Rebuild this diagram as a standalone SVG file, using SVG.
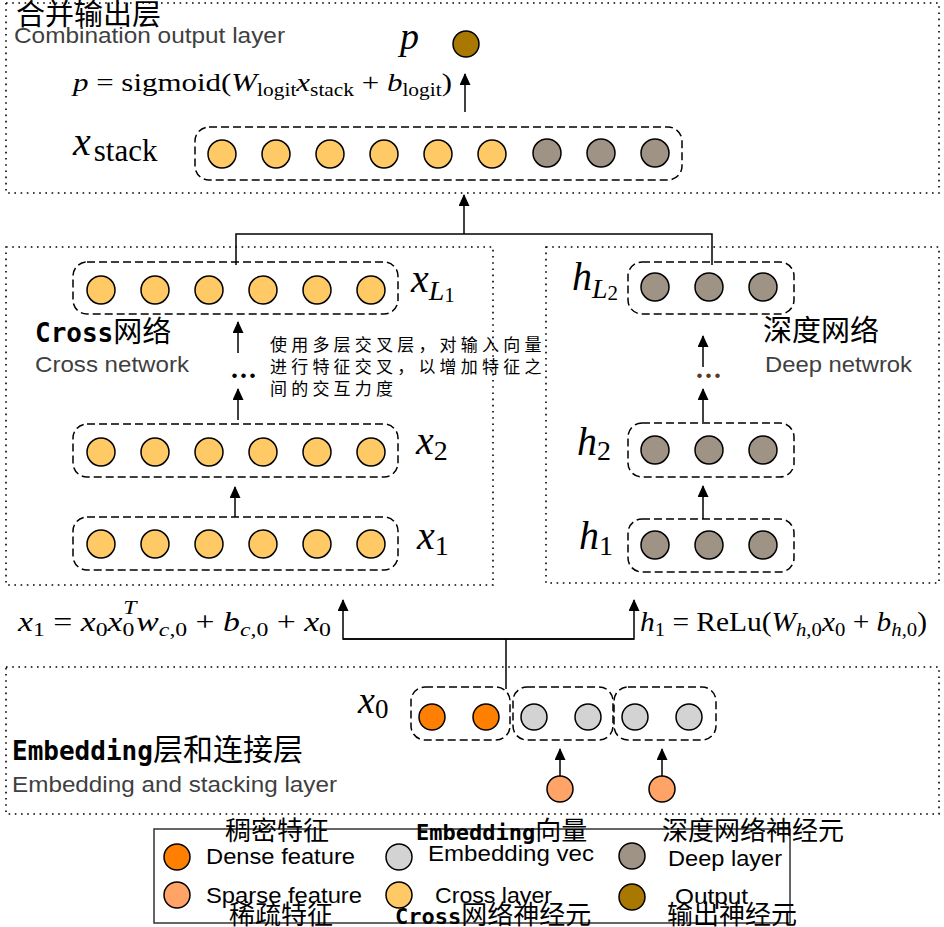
<svg xmlns="http://www.w3.org/2000/svg" width="944" height="927" viewBox="0 0 944 927">
<defs>
<marker id="ah" markerWidth="12" markerHeight="14" refX="11" refY="5.5" orient="auto" markerUnits="userSpaceOnUse">
<path d="M0,0 L12,5.5 L0,11 z" fill="#000"/>
</marker>
<style>
.dot{fill:none;stroke:#000;stroke-width:1.6;stroke-dasharray:1.6 4.6}
.dash{fill:none;stroke:#000;stroke-width:1.5;stroke-dasharray:8 4}
.c{stroke:#000;stroke-width:1.5}
.cross{fill:#FFC966}
.deep{fill:#9E9384}
.dense{fill:#FF7F00}
.sparse{fill:#FFA366}
.emb{fill:#D3D3D3}
.out{fill:#A87800}
.ln{fill:none;stroke:#000;stroke-width:1.5}
.ar{fill:none;stroke:#000;stroke-width:1.5;marker-end:url(#ah)}
.zh{font-family:"Noto Sans CJK SC","Noto Sans CJK JP",sans-serif}
.en{font-family:"Liberation Sans",Arial,sans-serif}
.g{fill:#3f3f3f}
.mono{font-family:"DejaVu Sans Mono",monospace;font-weight:bold}
.m{font-family:"Liberation Serif","DejaVu Serif",serif}
.i{font-style:italic}
</style>
</defs>
<rect width="944" height="927" fill="#fff"/>

<!-- Combination output layer -->
<g id="combination-layer">
<rect class="dot" x="6" y="3" width="933" height="190"/>
<text class="zh" x="16" y="25" font-size="29">合并输出层</text>
<text class="en g" x="14" y="43" font-size="22" textLength="271" lengthAdjust="spacingAndGlyphs">Combination output layer</text>
<text class="m i" x="400" y="49" font-size="38">p</text>
<circle class="c out" cx="466" cy="44" r="13"/>
<text class="m" x="73" y="91" font-size="26" textLength="379" lengthAdjust="spacingAndGlyphs"><tspan class="i">p</tspan> = sigmoid(<tspan class="i">W</tspan><tspan font-size="18" dy="5">logit</tspan><tspan class="i" dy="-5">x</tspan><tspan font-size="18" dy="5">stack</tspan><tspan dy="-5"> + </tspan><tspan class="i">b</tspan><tspan font-size="18" dy="5">logit</tspan><tspan dy="-5">)</tspan></text>
<text class="m" x="73" y="155" font-size="40"><tspan class="i">x</tspan><tspan font-size="31" dx="3" dy="6">stack</tspan></text>
</g>
<g id="x-stack">
<rect class="dash" x="195" y="127" width="487" height="53" rx="14"/>
<circle class="c cross" cx="222" cy="154" r="14"/>
<circle class="c cross" cx="276" cy="154" r="14"/>
<circle class="c cross" cx="330" cy="154" r="14"/>
<circle class="c cross" cx="384" cy="154" r="14"/>
<circle class="c cross" cx="438" cy="154" r="14"/>
<circle class="c cross" cx="492" cy="154" r="14"/>
<circle class="c deep" cx="547" cy="153" r="14"/>
<circle class="c deep" cx="601" cy="153" r="14"/>
<circle class="c deep" cx="655" cy="153" r="14"/>
</g>

<!-- Cross network -->
<g id="cross-network">
<rect class="dot" x="6" y="247" width="487" height="338"/>
<text x="35" y="342" font-size="26"><tspan class="mono">Cross</tspan><tspan class="zh" font-size="29">网络</tspan></text>
<text class="en g" x="35" y="372" font-size="22" textLength="154" lengthAdjust="spacingAndGlyphs">Cross network</text>
<text class="zh" font-size="17" letter-spacing="4.2"><tspan x="270" y="351">使用多层交叉层，对输入向量</tspan><tspan x="270" y="373">进行特征交叉，以增加特征之</tspan><tspan x="270" y="395">间的交互力度</tspan></text>
<text class="m" x="231" y="378" font-size="28" font-weight="bold" letter-spacing="2">...</text>
</g>
<g id="x-L1">
<rect class="dash" x="73" y="262" width="325" height="52" rx="14"/>
<circle class="c cross" cx="101" cy="290" r="14"/>
<circle class="c cross" cx="155" cy="290" r="14"/>
<circle class="c cross" cx="209" cy="290" r="14"/>
<circle class="c cross" cx="263" cy="290" r="14"/>
<circle class="c cross" cx="317" cy="290" r="14"/>
<circle class="c cross" cx="371" cy="290" r="14"/>
<text class="m" x="411" y="292" font-size="40"><tspan class="i">x</tspan><tspan class="i" font-size="28" dy="8">L</tspan><tspan font-size="21" dy="2">1</tspan></text>
</g>
<g id="x-2">
<rect class="dash" x="73" y="424" width="325" height="53" rx="14"/>
<circle class="c cross" cx="101" cy="452" r="14"/>
<circle class="c cross" cx="155" cy="452" r="14"/>
<circle class="c cross" cx="209" cy="452" r="14"/>
<circle class="c cross" cx="263" cy="452" r="14"/>
<circle class="c cross" cx="317" cy="452" r="14"/>
<circle class="c cross" cx="371" cy="452" r="14"/>
<text class="m" x="416" y="454" font-size="40"><tspan class="i">x</tspan><tspan font-size="28" dy="6">2</tspan></text>
</g>
<g id="x-1">
<rect class="dash" x="73" y="517" width="325" height="53" rx="14"/>
<circle class="c cross" cx="101" cy="544" r="14"/>
<circle class="c cross" cx="155" cy="544" r="14"/>
<circle class="c cross" cx="209" cy="544" r="14"/>
<circle class="c cross" cx="263" cy="544" r="14"/>
<circle class="c cross" cx="317" cy="544" r="14"/>
<circle class="c cross" cx="371" cy="544" r="14"/>
<text class="m" x="417" y="549" font-size="40"><tspan class="i">x</tspan><tspan font-size="28" dy="6">1</tspan></text>
</g>

<!-- Deep network -->
<g id="deep-network">
<rect class="dot" x="546" y="247" width="393" height="336"/>
<text class="zh" x="763" y="341" font-size="29">深度网络</text>
<text class="en g" x="765" y="372" font-size="22" textLength="147" lengthAdjust="spacingAndGlyphs">Deep netwrok</text>
<text class="m" x="696" y="378" font-size="28" font-weight="bold" letter-spacing="2" fill="#5a3a1a">...</text>
</g>
<g id="h-L2">
<rect class="dash" x="628" y="262" width="166" height="52" rx="14"/>
<circle class="c deep" cx="655" cy="287" r="14"/>
<circle class="c deep" cx="709" cy="287" r="14"/>
<circle class="c deep" cx="763" cy="287" r="14"/>
<text class="m" x="572" y="290" font-size="40"><tspan class="i">h</tspan><tspan class="i" font-size="28" dy="8">L</tspan><tspan font-size="21" dy="2">2</tspan></text>
</g>
<g id="h-2">
<rect class="dash" x="628" y="423" width="166" height="54" rx="14"/>
<circle class="c deep" cx="655" cy="450" r="14"/>
<circle class="c deep" cx="709" cy="450" r="14"/>
<circle class="c deep" cx="763" cy="450" r="14"/>
<text class="m" x="577" y="455" font-size="40"><tspan class="i">h</tspan><tspan font-size="28" dy="5">2</tspan></text>
</g>
<g id="h-1">
<rect class="dash" x="628" y="519" width="166" height="53" rx="14"/>
<circle class="c deep" cx="655" cy="545" r="14"/>
<circle class="c deep" cx="709" cy="545" r="14"/>
<circle class="c deep" cx="763" cy="545" r="14"/>
<text class="m" x="579" y="549" font-size="40"><tspan class="i">h</tspan><tspan font-size="28" dy="6">1</tspan></text>
</g>

<!-- Embedding layer -->
<g id="embedding-layer">
<rect class="dot" x="6" y="667" width="933" height="147"/>
<text x="12" y="760" font-size="26"><tspan class="mono">Embedding</tspan><tspan class="zh" font-size="30">层和连接层</tspan></text>
<text class="en g" x="12" y="792" font-size="22" textLength="325" lengthAdjust="spacingAndGlyphs">Embedding and stacking layer</text>
<text class="m" x="358" y="713" font-size="38"><tspan class="i">x</tspan><tspan font-size="27" dy="5">0</tspan></text>
</g>
<g id="x0-dense">
<rect class="dash" x="411" y="687" width="99" height="53" rx="14"/>
<circle class="c dense" cx="432" cy="717" r="13"/>
<circle class="c dense" cx="486" cy="717" r="13"/>
</g>
<g id="x0-emb1">
<rect class="dash" x="513" y="687" width="100" height="53" rx="14"/>
<circle class="c emb" cx="534" cy="717" r="13"/>
<circle class="c emb" cx="588" cy="717" r="13"/>
</g>
<g id="x0-emb2">
<rect class="dash" x="614" y="687" width="102" height="53" rx="14"/>
<circle class="c emb" cx="635" cy="717" r="13"/>
<circle class="c emb" cx="689" cy="717" r="13"/>
</g>
<g id="sparse-1"><circle class="c sparse" cx="560" cy="789" r="13"/></g>
<g id="sparse-2"><circle class="c sparse" cx="662" cy="789" r="13"/></g>

<!-- formulas -->
<g id="formula-cross">
<text class="m" x="18" y="631" font-size="27" textLength="313" lengthAdjust="spacingAndGlyphs"><tspan class="i">x</tspan><tspan font-size="19" dy="5">1</tspan><tspan dy="-5"> = </tspan><tspan class="i">x</tspan><tspan font-size="19" dy="5">0</tspan><tspan class="i" dy="-5">x</tspan><tspan font-size="19" dy="5">0</tspan><tspan class="i" font-size="19" dx="-9" dy="-22">T</tspan><tspan class="i" dy="17">w</tspan><tspan class="i" font-size="19" dy="5">c</tspan><tspan font-size="19">,0</tspan><tspan dy="-5"> + </tspan><tspan class="i">b</tspan><tspan class="i" font-size="19" dy="5">c</tspan><tspan font-size="19">,0</tspan><tspan dy="-5"> + </tspan><tspan class="i">x</tspan><tspan font-size="19" dy="5">0</tspan></text>
</g>
<g id="formula-deep">
<text class="m" x="640" y="631" font-size="27" textLength="287" lengthAdjust="spacingAndGlyphs"><tspan class="i">h</tspan><tspan font-size="19" dy="5">1</tspan><tspan dy="-5"> = ReLu(</tspan><tspan class="i">W</tspan><tspan class="i" font-size="19" dy="5">h</tspan><tspan font-size="19">,0</tspan><tspan class="i" dy="-5">x</tspan><tspan font-size="19" dy="5">0</tspan><tspan dy="-5"> + </tspan><tspan class="i">b</tspan><tspan class="i" font-size="19" dy="5">h</tspan><tspan font-size="19">,0</tspan><tspan dy="-5">)</tspan></text>
</g>

<!-- connectors -->
<g id="connectors">
<line class="ar" x1="465" y1="112" x2="465" y2="74"/>
<line class="ar" x1="464" y1="234" x2="464" y2="195"/>
<polyline class="ln" points="236,265 236,234 712,234 712,265"/>
<line class="ar" x1="238" y1="353" x2="238" y2="322"/>
<line class="ar" x1="238" y1="420" x2="238" y2="389"/>
<line class="ar" x1="235" y1="517" x2="235" y2="487"/>
<line class="ar" x1="703" y1="367" x2="703" y2="336"/>
<line class="ar" x1="703" y1="422" x2="703" y2="389"/>
<line class="ar" x1="703" y1="519" x2="703" y2="486"/>
<polyline class="ln" points="506,689 506,639"/>
<polyline class="ar" points="343,639 634,639 634,600"/>
<polyline class="ar" points="634,639 343,639 343,600"/>
<line class="ar" x1="560" y1="776" x2="560" y2="749"/>
<line class="ar" x1="662" y1="776" x2="662" y2="749"/>
</g>

<!-- legend -->
<g id="legend">
<rect x="154" y="829" width="636" height="94" fill="none" stroke="#333" stroke-width="1.5"/>
<text class="zh" x="225" y="840" font-size="26">稠密特征</text>
<circle class="c dense" cx="177" cy="857" r="13"/>
<text class="en" x="206" y="864" font-size="22" textLength="149" lengthAdjust="spacingAndGlyphs">Dense feature</text>
<circle class="c sparse" cx="177" cy="895" r="13"/>
<text class="en" x="206" y="903" font-size="22" textLength="156" lengthAdjust="spacingAndGlyphs">Sparse feature</text>
<text class="zh" x="229" y="924" font-size="26">稀疏特征</text>
<text x="416" y="840" font-size="22"><tspan class="mono">Embedding</tspan><tspan class="zh" font-size="26">向量</tspan></text>
<circle class="c emb" cx="399" cy="857" r="13"/>
<text class="en" x="428" y="861" font-size="22" textLength="166" lengthAdjust="spacingAndGlyphs">Embedding vec</text>
<circle class="c cross" cx="399" cy="895" r="13"/>
<text class="en" x="435" y="903" font-size="22" textLength="117" lengthAdjust="spacingAndGlyphs">Cross layer</text>
<text x="395" y="924" font-size="22"><tspan class="mono">Cross</tspan><tspan class="zh" font-size="26">网络神经元</tspan></text>
<text class="zh" x="662" y="840" font-size="26">深度网络神经元</text>
<circle class="c deep" cx="632" cy="856" r="13"/>
<text class="en" x="668" y="866" font-size="22" textLength="114" lengthAdjust="spacingAndGlyphs">Deep layer</text>
<circle class="c out" cx="632" cy="897" r="13"/>
<text class="en" x="675" y="904" font-size="22" textLength="73" lengthAdjust="spacingAndGlyphs">Output</text>
<text class="zh" x="667" y="924" font-size="26">输出神经元</text>
</g>
</svg>
